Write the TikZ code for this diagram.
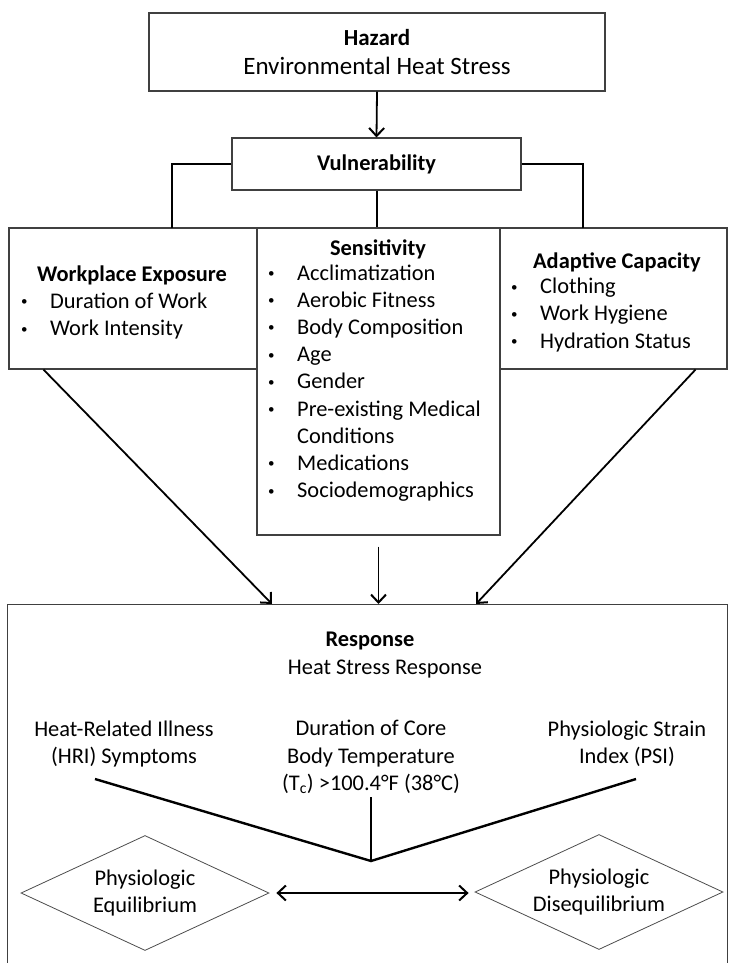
\documentclass[tikz,border=0pt]{standalone}
\usepackage{fontspec}
\setmainfont{Carlito}
\usepackage{tikz}
\usetikzlibrary{positioning,shapes,arrows.meta}

\tikzset{
  box/.style={draw=black!75, line width=1.1pt, inner sep=0pt},
  diam/.style={diamond, draw=black!70, line width=0.8pt, inner sep=0pt, aspect=2.16,
    minimum width=248pt, minimum height=115pt, align=center},
  title/.style={font=\fontsize{22.4}{27.2}\selectfont\bfseries},
  itemlist/.style={align=left, inner sep=0pt, anchor=west},
  link/.style={line width=2.6pt},
  arr/.style={line width=1.8pt, -{Straight Barb[length=8pt,width=15pt,line width=2pt]}},
  vee/.style={line width=2.4pt}
}
\newcommand{\itm}{\makebox[29pt][l]{\raisebox{2.5pt}{\fontsize{13}{13}\selectfont\textbullet}}}

\begin{document}
\begin{tikzpicture}[x=1pt,y=-1pt,font=\fontsize{22.4}{27.2}\selectfont]
\useasboundingbox (0,0) rectangle (728,963);

% top part
\node[box, minimum width=456pt, minimum height=78pt, align=center,
  font=\fontsize{23}{29}\selectfont] (hazard) at (377,52)
  {\textbf{Hazard}\\{\fontsize{25}{29}\selectfont Environmental Heat Stress}};
\node[box, minimum width=289pt, minimum height=52pt, title] (vuln) at (376.5,164) {Vulnerability};
\draw[arr] (hazard.south) -- (vuln.north);

% the three parts of vulnerability
\node[box, minimum width=248pt, minimum height=141pt] (work) at (133,298.5) {};
\node[box, minimum width=243pt, minimum height=307pt] (sens) at (378.5,381.5) {};
\node[box, minimum width=227pt, minimum height=141pt] (adapt) at (613.5,298.5) {};
\coordinate (worktop) at (172,228);
\coordinate (adapttop) at (583,228);
\draw[link] (vuln.west) -| (worktop);
\draw[link] (vuln.east) -| (adapttop);
\draw[line width=2pt] (vuln.south) -- (vuln.south |- sens.north);

\node[title] (worktitle) at (132,275) {Workplace Exposure};
\node[itemlist] (worklist) at (21,316) {\itm Duration of Work\\\itm Work Intensity};
\node[title] (senstitle) at (378,249) {Sensitivity};
\node[itemlist] (senslist) at (268,383) {\itm Acclimatization\\\itm Aerobic Fitness\\
  \itm Body Composition\\\itm Age\\\itm Gender\\\itm Pre-existing Medical\\
  \hspace*{29pt}Conditions\\\itm Medications\\\itm Sociodemographics};
\node[title] (adapttitle) at (617,262) {Adaptive Capacity};
\node[itemlist] (adaptlist) at (511,315) {\itm Clothing\\\itm Work Hygiene\\\itm Hydration Status};

% response
\node[box, minimum width=720pt, minimum height=420pt, anchor=north west] (resp) at (7,604) {};
\draw[arr] ([xshift=35pt]work.south west) -- ([xshift=265pt]resp.north west);
\draw[arr] ([yshift=-11pt]sens.south) -- (sens.south |- resp.north);
\draw[arr] ([xshift=-32pt]adapt.south east) -- ([xshift=469pt]resp.north west);

\node[title] (resptitle) at (370,641) {Response};
\node (respsub) at (385,669) {Heat Stress Response};
\node[align=center] (hri) at (124,744) {Heat-Related Illness\\(HRI) Symptoms};
\node[align=center] (tc) at (371,757) {Duration of Core\\Body Temperature\\(T\textsubscript{c}) >100.4°F (38°C)};
\node[align=center] (psi) at (627,744) {Physiologic Strain\\Index (PSI)};
\coordinate (hriend) at (95,779);
\coordinate (psiend) at (636,779);
\coordinate (meet) at (371,861);
\draw[vee] (hriend) -- (meet) -- (psiend);
\draw[line width=2pt] (tc.south) -- (meet);

\node[diam] (equil) at (145,893) {Physiologic\\Equilibrium};
\node[diam] (diseq) at (599,892) {Physiologic\\Disequilibrium};
\draw[arr, {Straight Barb[length=8pt,width=15pt,line width=2pt]}-{Straight Barb[length=8pt,width=15pt,line width=2pt]},
  shorten <=7pt, shorten >=6pt] (equil.east) -- (equil.east -| diseq.west);
\end{tikzpicture}
\end{document}
